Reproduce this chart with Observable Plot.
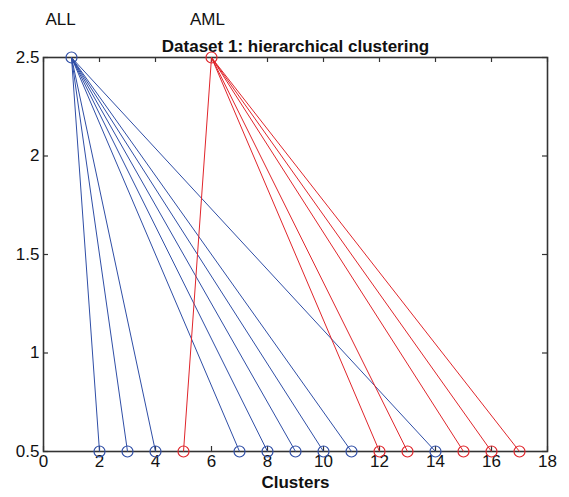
<!DOCTYPE html>
<html>
<head>
<meta charset="utf-8">
<script src="https://cdn.jsdelivr.net/npm/d3@7"></script>
<script src="https://cdn.jsdelivr.net/npm/@observablehq/plot@0.6"></script>
<style>
  html, body { margin: 0; padding: 0; background: #fff; }
</style>
</head>
<body>
<div id="chart"></div>
<script>
// ---- data ----
const groups = ["ALL", "AML"];
const rootClusters = [1, 6];           // root node x position for each group
const rootLevel = 2.5;
const leafLevel = 0.5;
const allClusters = [2, 3, 4, 7, 8, 9, 10, 11, 14];
const amlClusters = [5, 12, 13, 15, 16, 17];
const xTicks = [0, 2, 4, 6, 8, 10, 12, 14, 16, 18];
const yTicks = [0.5, 1, 1.5, 2, 2.5];
const title = "Dataset 1: hierarchical clustering";
const xLabel = "Clusters";

const colors = {ALL: "#2f4ea6", AML: "#e0252b"};

const links = [
  ...allClusters.map(c => ({group: "ALL", x1: rootClusters[0], y1: rootLevel, x2: c, y2: leafLevel})),
  ...amlClusters.map(c => ({group: "AML", x1: rootClusters[1], y1: rootLevel, x2: c, y2: leafLevel}))
];
const roots = groups.map((g, i) => ({group: g, x: rootClusters[i], y: rootLevel}));
const leaves = links.map(d => ({group: d.group, x: d.x2, y: d.y2}));

const W = 569, H = 497;
const mt = 57, mb = 46, ml = 43, mr = 22;
const ph = H - mt - mb, pw = W - ml - mr;
const tk = 5;

const chart = Plot.plot({
  width: W, height: H,
  marginTop: mt, marginBottom: mb, marginLeft: ml, marginRight: mr,
  style: {fontFamily: "'Liberation Sans', Arial, sans-serif", fontSize: "17px", color: "#111", background: "#fff"},
  x: {domain: [0, 18]},
  y: {domain: [0.5, 2.5]},
  marks: [
    Plot.axisX(xTicks, {tickSize: 0, tickPadding: 3, fontSize: 17, label: null}),
    Plot.axisY(yTicks, {tickSize: 0, tickPadding: 4, fontSize: 17, label: null, tickFormat: d => String(d)}),
    // inward ticks (MATLAB box style)
    Plot.tickX(xTicks, {x: d => d, insetTop: ph - tk, stroke: "#333", strokeWidth: 1.2}),
    Plot.tickX(xTicks, {x: d => d, insetBottom: ph - tk, stroke: "#333", strokeWidth: 1.2}),
    Plot.tickY(yTicks, {y: d => d, insetRight: pw - tk, stroke: "#333", strokeWidth: 1.2}),
    Plot.tickY(yTicks, {y: d => d, insetLeft: pw - tk, stroke: "#333", strokeWidth: 1.2}),
    Plot.frame({stroke: "#333", strokeWidth: 1.6}),
    Plot.link(links, {x1: "x1", y1: "y1", x2: "x2", y2: "y2", stroke: d => colors[d.group], strokeWidth: 1}),
    Plot.dot(leaves, {x: "x", y: "y", r: 5.5, stroke: d => colors[d.group], fill: "none", strokeWidth: 1.2}),
    Plot.dot(roots, {x: "x", y: "y", r: 5.5, stroke: d => colors[d.group], fill: "none", strokeWidth: 1.2}),
    // group labels
    Plot.text(roots.filter(d => d.group === "ALL"), {x: "x", y: "y", text: "group", dx: -11, dy: -38, fontSize: 17, fill: "#111"}),
    Plot.text(roots.filter(d => d.group === "AML"), {x: "x", y: "y", text: "group", dx: -4, dy: -38, fontSize: 17, fill: "#111"}),
    // title and x label
    Plot.text([title], {frameAnchor: "top", dy: -18, dx: 0, fontSize: 17, fontWeight: "bold", fill: "#111"}),
    Plot.text([xLabel], {frameAnchor: "bottom", dy: 36, fontSize: 17, fontWeight: "bold", fill: "#111"})
  ]
});
document.getElementById("chart").appendChild(chart);
</script>
</body>
</html>
